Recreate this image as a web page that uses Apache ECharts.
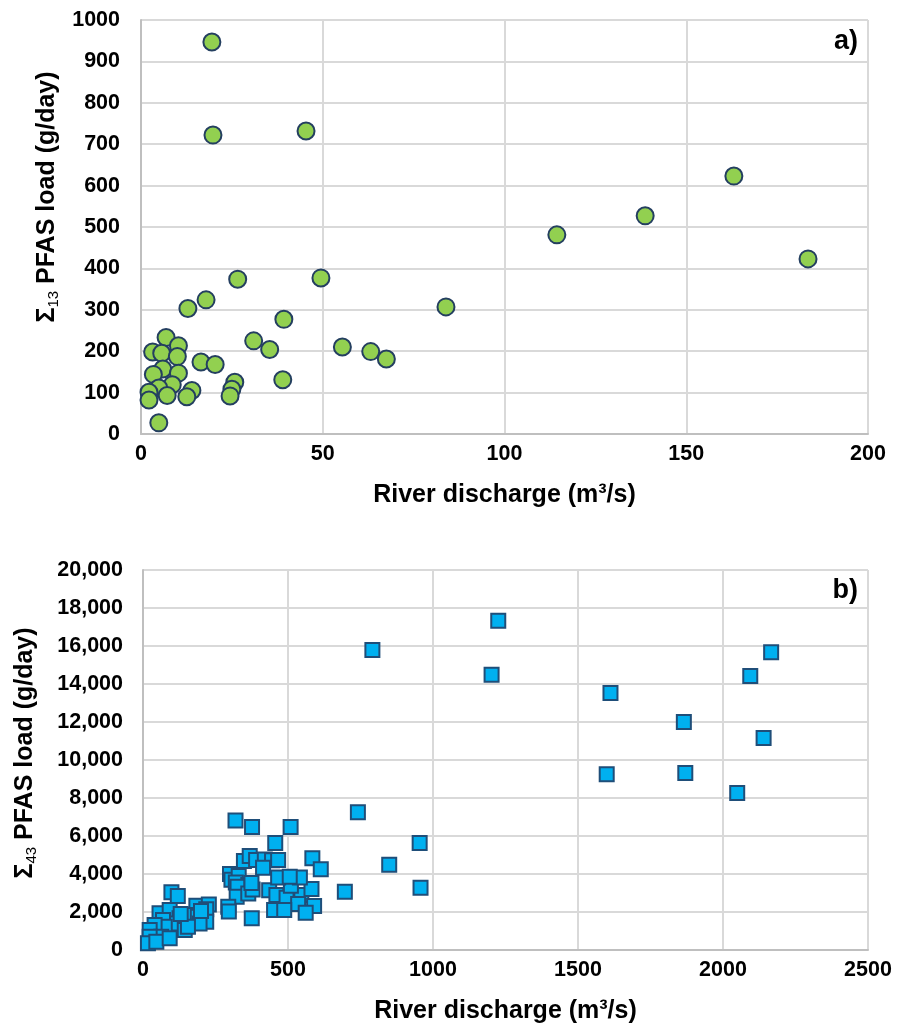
<!DOCTYPE html>
<html>
<head>
<meta charset="utf-8">
<script src="https://cdn.jsdelivr.net/npm/echarts@6/dist/echarts.min.js"></script>
<style>
html,body{margin:0;padding:0;background:#fff;}
#chart{width:899px;height:1029px;}
</style>
</head>
<body>
<div id="chart"></div>
<script>
// Panel a: Σ13 PFAS load vs river discharge
const dischargeA = [19.5,19.8,45.4,83.9,114.4,138.7,163.1,183.5,26.6,49.5,17.9,12.9,39.3,6.9,10.3,3.2,5.7,10.0,31.0,35.4,55.4,63.2,67.5,16.5,20.4,6.0,3.4,10.3,25.8,39.0,8.6,4.9,14.0,25.0,24.5,12.6,7.2,2.2,2.2,4.9];
const loadA = [947,722,732,307,481,527,623,423,374,377,324,303,277,233,213,198,195,187,225,204,210,199,181,174,168,157,144,147,125,131,119,111,105,108,92,90,93,101,82,27];

// Panel b: Σ43 PFAS load vs river discharge
const dischargeB = [1225,791,1202,2166,2094,1612,1865,2140,1599,1870,2049,741,954,849,696,957,319,376,509,456,584,613,375,348,368,390,420,445,466,414,300,305,330,320,363,326,323,363,294,296,378,374,435,460,495,546,535,590,452,487,561,510,581,466,541,506,98,120,184,227,218,218,57,92,155,126,109,144,189,195,69,75,40,23,63,23,17,46,92,155,130,200];
const loadB = [17330,15790,14490,15670,14420,13530,12000,11160,9245,9315,8260,7245,5630,4490,3070,3280,6810,6470,6470,5630,4830,4250,1670,4680,4950,4740,4760,4720,4740,4330,4000,3700,3900,3550,3420,3330,2800,2980,2280,2020,3190,3530,3140,2890,2750,2890,2420,2315,2100,2100,1960,3380,3210,3820,3820,3860,3040,2840,2330,2400,2140,1490,1930,2100,1840,1670,1400,1050,1750,1400,1580,1230,1320,1050,700,700,350,440,620,1230,1900,2050];

const xTitle = 'River discharge (m³/s)';
const panelLabels = ['a)', 'b)'];

const FONT = '"Liberation Sans", Arial, sans-serif';
const chart = echarts.init(document.getElementById('chart'), null, {renderer: 'canvas'});

function zip(xs, ys) { return xs.map((x, i) => [x, ys[i]]); }

const gridLine = {show: true, lineStyle: {color: '#d9d9d9', width: 2}};
const axisLine = {show: true, lineStyle: {color: '#bfbfbf', width: 2}};
const tickLabel = {color: '#000', fontFamily: FONT, fontWeight: 'bold', fontSize: 21.5};
const plain = v => String(v);
const comma = v => v.toLocaleString('en-US');

function yName(sub) {
  return '{s|Σ}{sub|' + sub + '}{s| PFAS load (g/day)}';
}
const yRich = {
  s: {fontFamily: FONT, fontWeight: 'bold', fontSize: 25, color: '#000', lineHeight: 28},
  sub: {fontFamily: FONT, fontWeight: 'normal', fontSize: 15, color: '#000', lineHeight: 28, verticalAlign: 'bottom', padding: [9, 0, 0, 0]}
};
const xNameStyle = {fontFamily: FONT, fontWeight: 'bold', fontSize: 25, color: '#000'};

const option = {
  animation: false,
  backgroundColor: '#fff',
  grid: [
    {left: 141, top: 20, width: 727, height: 414, containLabel: false},
    {left: 143, top: 570, width: 725, height: 380, containLabel: false}
  ],
  xAxis: [
    {
      gridIndex: 0, type: 'value', min: 0, max: 200, interval: 50,
      axisLine: axisLine, axisTick: {show: false}, splitLine: gridLine,
      axisLabel: Object.assign({margin: 9, formatter: plain}, tickLabel),
      name: xTitle, nameLocation: 'middle', nameGap: 49, nameTextStyle: xNameStyle
    },
    {
      gridIndex: 1, type: 'value', min: 0, max: 2500, interval: 500,
      axisLine: axisLine, axisTick: {show: false}, splitLine: gridLine,
      axisLabel: Object.assign({margin: 9, formatter: plain}, tickLabel),
      name: xTitle, nameLocation: 'middle', nameGap: 49, nameTextStyle: xNameStyle
    }
  ],
  yAxis: [
    {
      gridIndex: 0, type: 'value', min: 0, max: 1000, interval: 100,
      axisLine: axisLine, axisTick: {show: false}, splitLine: gridLine,
      axisLabel: Object.assign({margin: 21, formatter: plain}, tickLabel),
      name: yName('13'), nameLocation: 'middle', nameGap: 74, nameRotate: 90,
      nameTextStyle: {rich: yRich, padding: [0, 0, 0, 60]}
    },
    {
      gridIndex: 1, type: 'value', min: 0, max: 20000, interval: 2000,
      axisLine: axisLine, axisTick: {show: false}, splitLine: gridLine,
      axisLabel: Object.assign({margin: 20, formatter: comma}, tickLabel),
      name: yName('43'), nameLocation: 'middle', nameGap: 104, nameRotate: 90,
      nameTextStyle: {rich: yRich, padding: [0, 0, 0, 14]}
    }
  ],
  graphic: [
    {type: 'text', right: 41, top: 28, style: {text: panelLabels[0], font: 'bold 27px ' + FONT, fill: '#000'}},
    {type: 'text', right: 41, top: 577, style: {text: panelLabels[1], font: 'bold 27px ' + FONT, fill: '#000'}}
  ],
  series: [
    {
      type: 'scatter', xAxisIndex: 0, yAxisIndex: 0,
      data: zip(dischargeA, loadA),
      symbol: 'circle', symbolSize: 17,
      itemStyle: {color: '#92d050', borderColor: '#243f60', borderWidth: 2, opacity: 1}
    },
    {
      type: 'scatter', xAxisIndex: 1, yAxisIndex: 1,
      data: zip(dischargeB, loadB),
      symbol: 'rect', symbolSize: 14,
      itemStyle: {color: '#00b0f0', borderColor: '#1f4e79', borderWidth: 2, opacity: 1}
    }
  ]
};
chart.setOption(option);
</script>
</body>
</html>
